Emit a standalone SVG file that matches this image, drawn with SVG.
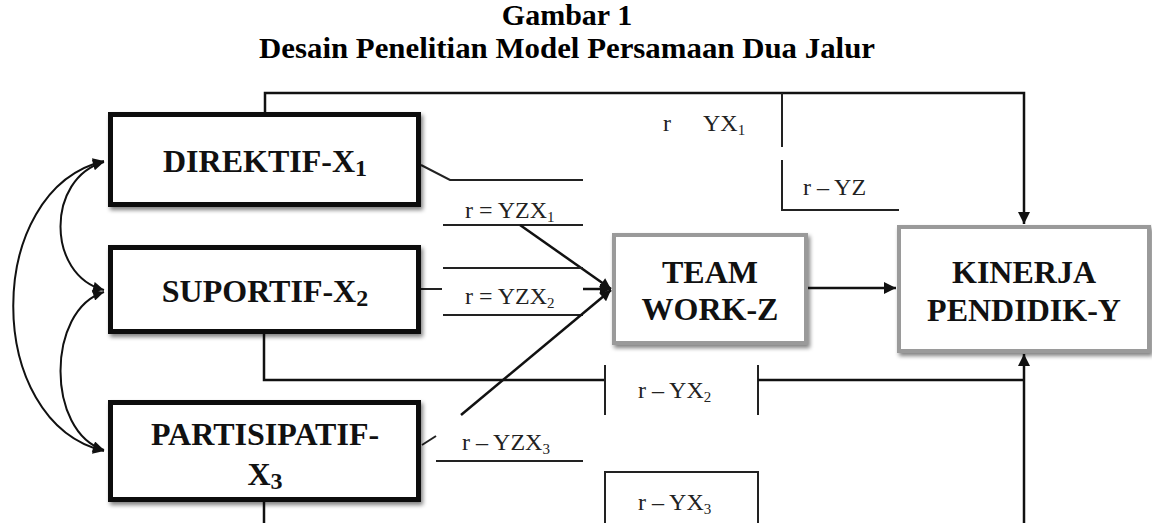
<svg xmlns="http://www.w3.org/2000/svg" width="1152" height="523" viewBox="0 0 1152 523">
  <defs>
    <style>
      .title { font-family: "Liberation Serif", "Times New Roman", serif; font-weight: bold; font-size: 30px; fill: #000; text-anchor: middle; }
      .node-text { font-family: "Liberation Serif", "Times New Roman", serif; font-weight: bold; font-size: 32px; fill: #111; text-anchor: middle; }
      .label { font-family: "Liberation Serif", "Times New Roman", serif; font-size: 24px; fill: #222; }
      .box-black { fill: #fff; stroke: #111; stroke-width: 5; }
      .box-gray { fill: #fff; stroke: #9a9a9a; stroke-width: 4; }
      .line { fill: none; stroke: #111; stroke-width: 2.5; }
      .thin { fill: none; stroke: #222; stroke-width: 2; }
      .curve { fill: none; stroke: #111; stroke-width: 2; }
    </style>
    <marker id="arrow" viewBox="0 0 10 10" refX="10" refY="5" markerUnits="userSpaceOnUse" markerWidth="14" markerHeight="12" orient="auto-start-reverse">
      <path d="M0,0 L10,5 L0,10 z" fill="#111"/>
    </marker>
    <marker id="arrowS" viewBox="0 0 10 10" refX="10" refY="5" markerUnits="userSpaceOnUse" markerWidth="12" markerHeight="11" orient="auto-start-reverse">
      <path d="M0,0 L10,5 L0,10 z" fill="#111"/>
    </marker>
    <filter id="shadow" x="-10%" y="-10%" width="125%" height="130%">
      <feGaussianBlur in="SourceAlpha" stdDeviation="2"/>
      <feOffset dx="2" dy="3" result="b"/>
      <feComponentTransfer><feFuncA type="linear" slope="0.5"/></feComponentTransfer>
      <feMerge><feMergeNode/><feMergeNode in="SourceGraphic"/></feMerge>
    </filter>
  </defs>

  <rect x="0" y="0" width="1152" height="523" fill="#fff"/>

  <g id="title">
    <text class="title" x="567" y="25">Gambar 1</text>
    <text class="title" x="567" y="58" textLength="616" lengthAdjust="spacingAndGlyphs">Desain Penelitian Model Persamaan Dua Jalur</text>
  </g>

  <g id="connectors">
    <!-- DIREKTIF to KINERJA (top) -->
    <path class="line" d="M265,114 V93 H1024 V224" marker-end="url(#arrow)"/>
    <!-- r-YZ bracket -->
    <path class="thin" d="M782,93 V147 M782,160 V210 H899"/>
    <!-- DIREKTIF to TEAM -->
    <path class="thin" d="M421,165 L450,180 H583"/>
    <path class="thin" d="M443,225 H583"/>
    <path class="line" d="M520,225 L611,289" marker-end="url(#arrowS)"/>
    <!-- SUPORTIF to TEAM -->
    <path class="thin" d="M421,289 H442"/>
    <path class="thin" d="M443,268 H583"/>
    <path class="thin" d="M443,315 H583"/>
    <path class="line" d="M583,289 H611" marker-end="url(#arrowS)"/>
    <!-- PARTISIPATIF to TEAM -->
    <path class="thin" d="M422,445 L436,436"/>
    <path class="line" d="M461,415 L611,290" marker-end="url(#arrowS)"/>
    <path class="thin" d="M436,461 H583"/>
    <!-- TEAM to KINERJA -->
    <path class="line" d="M808,288 H896" marker-end="url(#arrow)"/>
    <!-- SUPORTIF to KINERJA -->
    <path class="line" d="M264,333 V380 H605"/>
    <path class="thin" d="M605,365 V415 M758,365 V415"/>
    <path class="line" d="M758,380 H1024"/>
    <!-- PARTISIPATIF to KINERJA -->
    <path class="line" d="M264,502 V523"/>
    <path class="line" d="M1024,523 V354" marker-end="url(#arrow)"/>
    <rect class="thin" x="605" y="472" width="153" height="60"/>
    <!-- correlations -->
    <path class="curve" d="M104,162 C46,178 46,275 104,290" marker-start="url(#arrowS)" marker-end="url(#arrowS)"/>
    <path class="curve" d="M104,292 C46,310 46,432 104,450" marker-start="url(#arrowS)" marker-end="url(#arrowS)"/>
    <path class="curve" d="M104,161 C-17,190 -17,422 104,451" marker-start="url(#arrowS)" marker-end="url(#arrowS)"/>
  </g>

  <g id="labels">
    <text class="label" x="663" y="131">r<tspan x="703">YX</tspan><tspan font-size="15" dy="4">1</tspan></text>
    <text class="label" x="803" y="195">r – YZ</text>
    <text class="label" x="465" y="218">r = YZX<tspan font-size="15" dy="4">1</tspan></text>
    <text class="label" x="465" y="304">r = YZX<tspan font-size="15" dy="4">2</tspan></text>
    <text class="label" x="462" y="450">r – YZX<tspan font-size="15" dy="4">3</tspan></text>
    <text class="label" x="638" y="398">r – YX<tspan font-size="15" dy="4">2</tspan></text>
    <text class="label" x="638" y="510">r – YX<tspan font-size="15" dy="4">3</tspan></text>
  </g>

  <g id="node-direktif">
    <rect class="box-black" x="110.5" y="114.5" width="308" height="90" filter="url(#shadow)"/>
    <text class="node-text" x="265" y="172">DIREKTIF-X<tspan font-size="24" dy="4">1</tspan></text>
  </g>
  <g id="node-suportif">
    <rect class="box-black" x="110.5" y="247.5" width="308" height="84" filter="url(#shadow)"/>
    <text class="node-text" x="265" y="302">SUPORTIF-X<tspan font-size="24" dy="4">2</tspan></text>
  </g>
  <g id="node-partisipatif">
    <rect class="box-black" x="110.5" y="402.5" width="308" height="97" filter="url(#shadow)"/>
    <text class="node-text" x="265" y="445">PARTISIPATIF-</text>
    <text class="node-text" x="265" y="485">X<tspan font-size="24" dy="4">3</tspan></text>
  </g>
  <g id="node-teamwork">
    <rect class="box-gray" x="614" y="235" width="192" height="108" filter="url(#shadow)"/>
    <text class="node-text" x="710" y="283">TEAM</text>
    <text class="node-text" x="710" y="320">WORK-Z</text>
  </g>
  <g id="node-kinerja">
    <rect class="box-gray" x="899" y="227" width="250" height="124" filter="url(#shadow)"/>
    <text class="node-text" x="1024" y="283">KINERJA</text>
    <text class="node-text" x="1024" y="321">PENDIDIK-Y</text>
  </g>
</svg>
